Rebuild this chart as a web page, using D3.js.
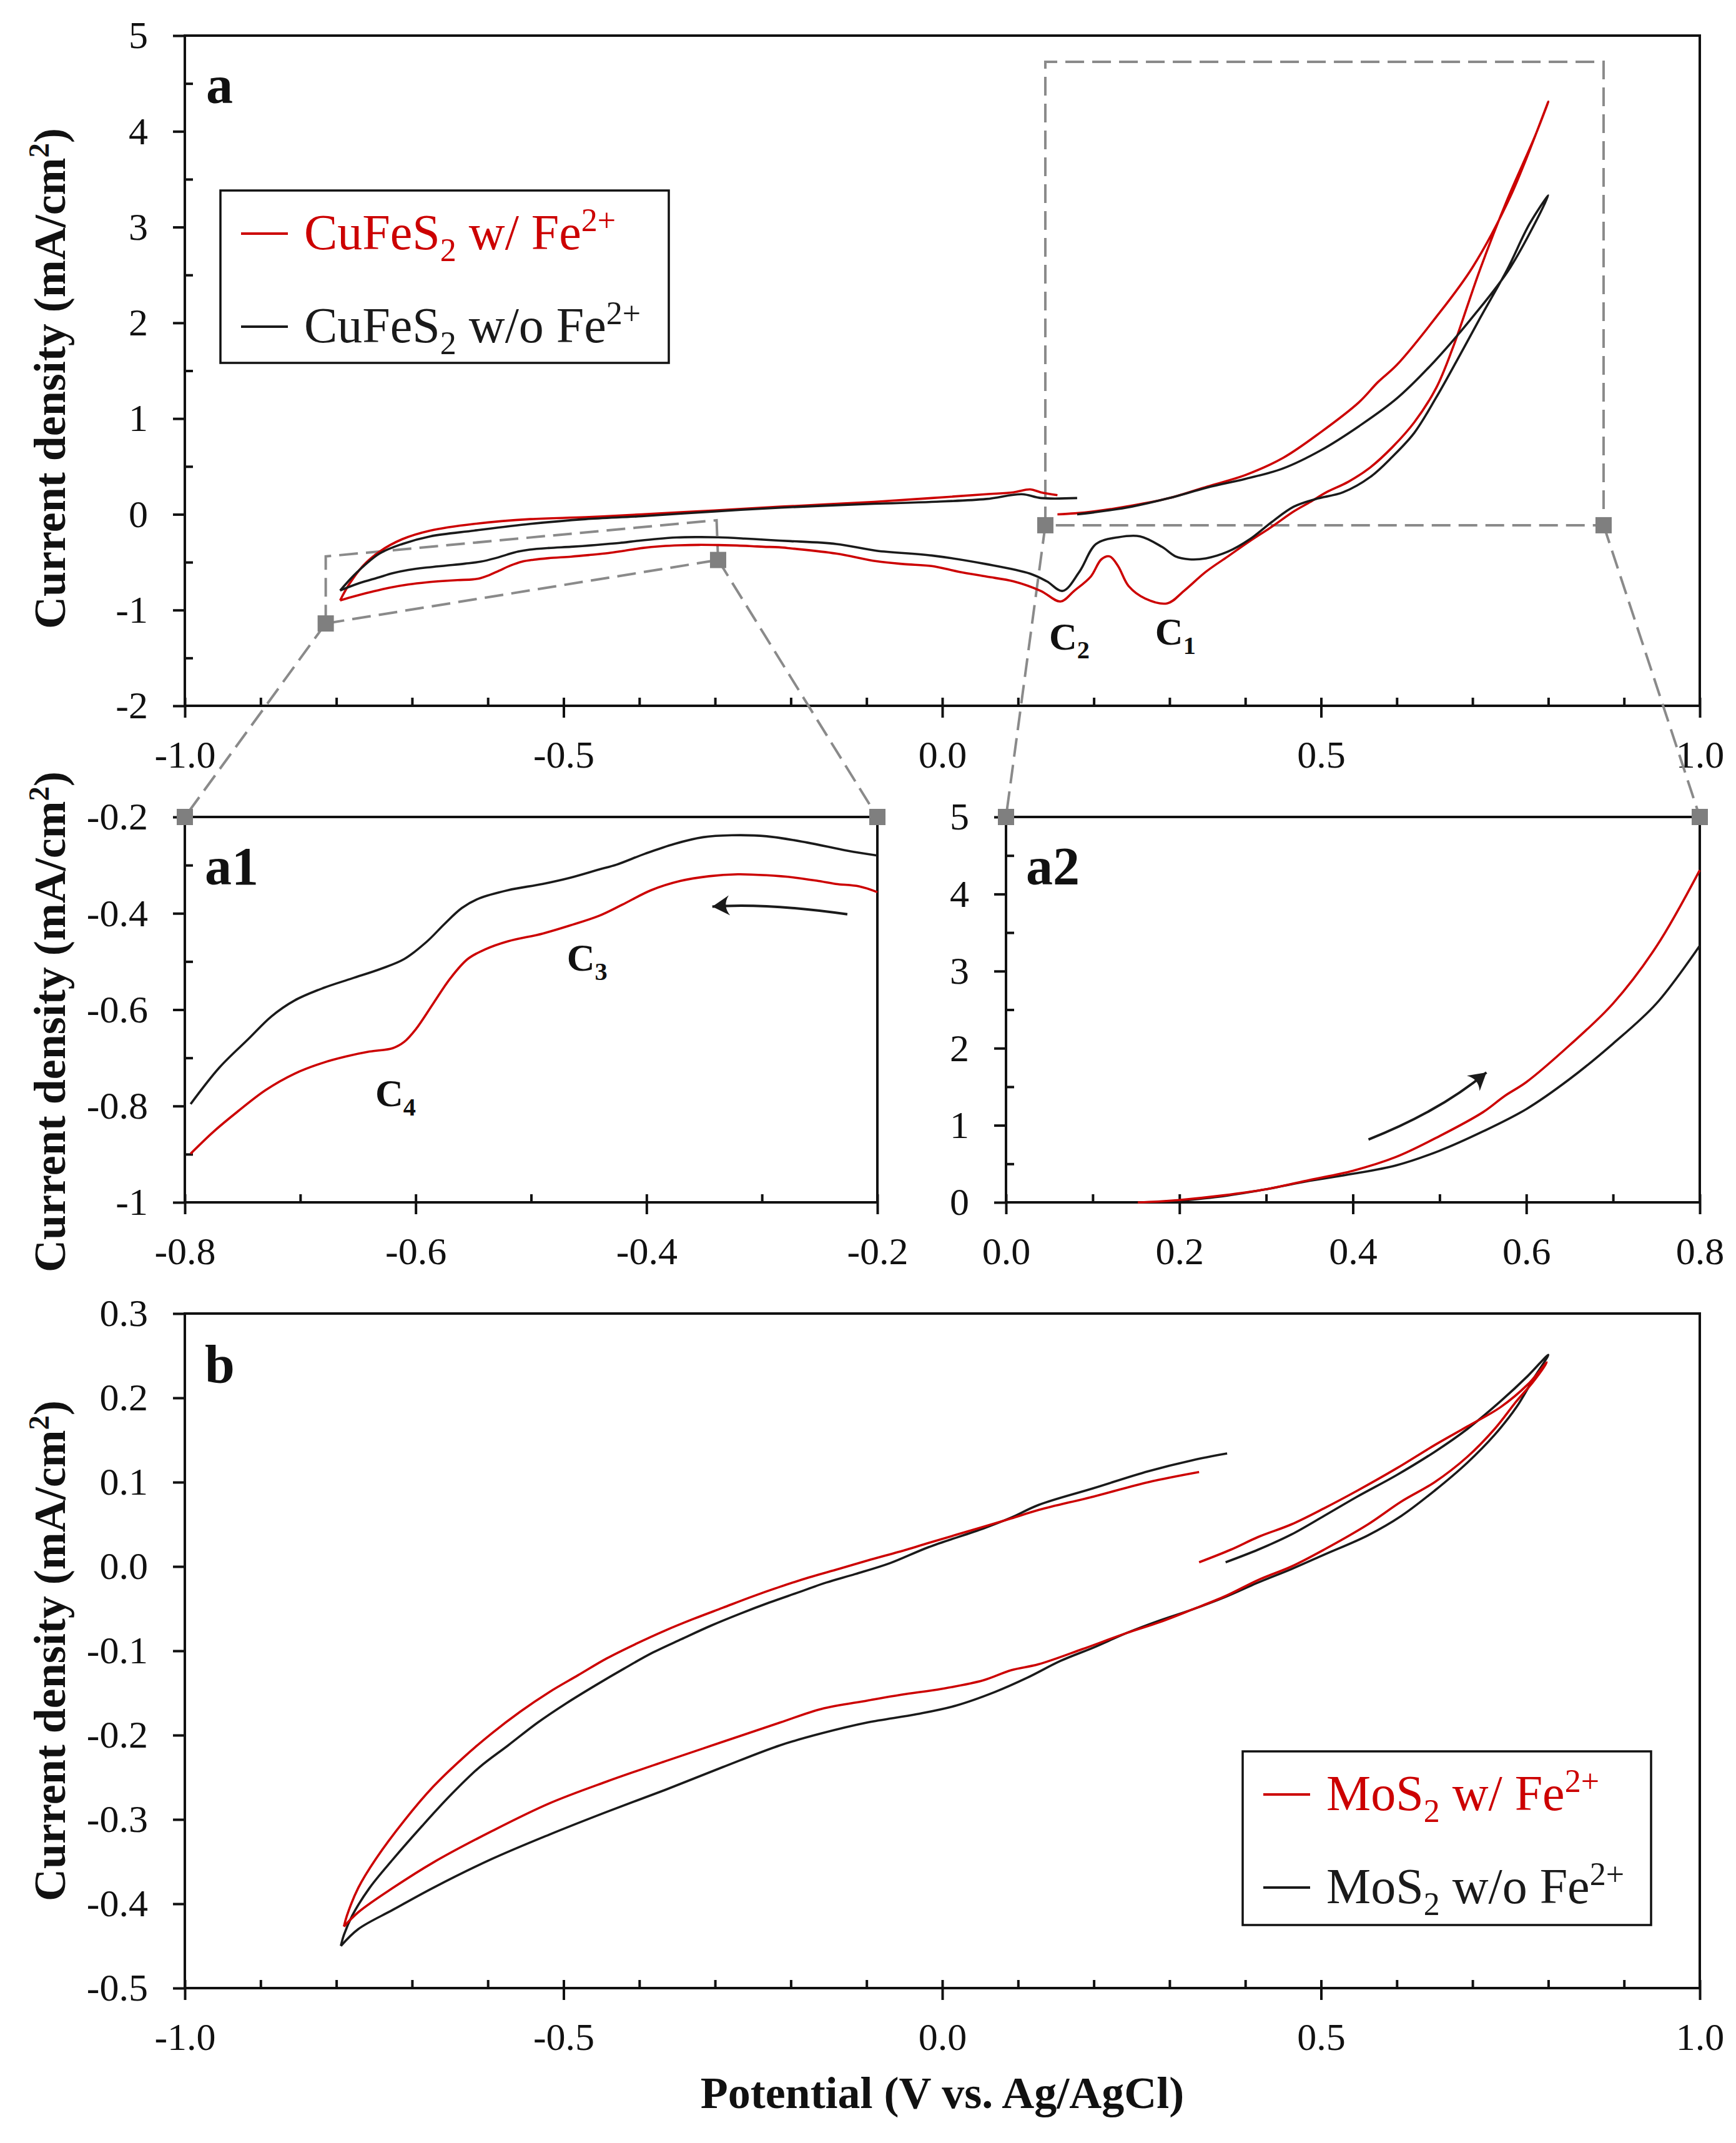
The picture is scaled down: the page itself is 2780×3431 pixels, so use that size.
<!DOCTYPE html>
<html>
<head>
<meta charset="utf-8">
<script src="https://cdn.jsdelivr.net/npm/d3@7/dist/d3.min.js"></script>
<style>
  body { margin: 0; background: #fff; }
  text { font-family: "Liberation Serif", "Times New Roman", serif; }
</style>
</head>
<body>
<div id="chart"></div>
<script>
// CuFeS2 w/ Fe2+ : anodic start, cathodic sweep 0.8 -> -0.8, return sweep
var cuWithFeFwd = [[0.152,0.00],[0.175,0.01],[0.20,0.03],[0.25,0.09],[0.30,0.17],[0.35,0.29],[0.40,0.41],[0.45,0.59],[0.50,0.86],[0.55,1.17],[0.575,1.38],[0.60,1.56],[0.65,2.04],[0.70,2.58],[0.75,3.32],[0.80,4.31]];
var cuWithFeRev = [[0.80,4.31],[0.783,3.96],[0.746,3.29],[0.71,2.56],[0.674,1.74],[0.652,1.32],[0.623,0.96],[0.594,0.70],[0.565,0.49],[0.536,0.34],[0.507,0.23],[0.486,0.13],[0.464,0.03],[0.435,-0.13],[0.406,-0.28],[0.377,-0.44],[0.348,-0.60],[0.319,-0.80],[0.297,-0.93],[0.268,-0.88],[0.246,-0.75],[0.232,-0.54],[0.221,-0.44],[0.21,-0.47],[0.196,-0.65],[0.174,-0.80],[0.156,-0.91],[0.13,-0.80],[0.094,-0.70],[0.058,-0.65],[0.022,-0.60],[-0.014,-0.54],[-0.051,-0.52],[-0.087,-0.49],[-0.14,-0.41],[-0.2,-0.356],[-0.216,-0.344],[-0.236,-0.339],[-0.251,-0.333],[-0.271,-0.326],[-0.296,-0.321],[-0.321,-0.319],[-0.346,-0.323],[-0.371,-0.333],[-0.396,-0.352],[-0.421,-0.382],[-0.441,-0.405],[-0.466,-0.425],[-0.49,-0.442],[-0.52,-0.458],[-0.54,-0.475],[-0.555,-0.495],[-0.57,-0.535],[-0.585,-0.588],[-0.60,-0.641],[-0.61,-0.667],[-0.62,-0.68],[-0.64,-0.687],[-0.66,-0.697],[-0.68,-0.71],[-0.705,-0.733],[-0.73,-0.767],[-0.755,-0.813],[-0.775,-0.853],[-0.795,-0.899]];
var cuWithFeRet = [[-0.795,-0.899],[-0.783,-0.73],[-0.765,-0.54],[-0.743,-0.39],[-0.713,-0.26],[-0.676,-0.17],[-0.618,-0.10],[-0.544,-0.05],[-0.471,-0.03],[-0.397,0.0],[-0.301,0.04],[-0.213,0.08],[-0.09,0.13],[-0.014,0.17],[0.058,0.21],[0.094,0.23],[0.116,0.26],[0.13,0.23],[0.152,0.20]];

// CuFeS2 w/o Fe2+
var cuNoFeFwd = [[0.178,0.00],[0.20,0.02],[0.25,0.08],[0.30,0.17],[0.35,0.28],[0.40,0.37],[0.45,0.48],[0.50,0.67],[0.55,0.92],[0.60,1.21],[0.65,1.60],[0.70,2.06],[0.75,2.58],[0.80,3.33]];
var cuNoFeRev = [[0.80,3.33],[0.775,3.03],[0.746,2.56],[0.71,2.05],[0.681,1.63],[0.652,1.22],[0.623,0.85],[0.594,0.60],[0.565,0.39],[0.529,0.23],[0.493,0.16],[0.464,0.08],[0.435,-0.08],[0.406,-0.26],[0.377,-0.39],[0.348,-0.46],[0.326,-0.47],[0.308,-0.44],[0.29,-0.34],[0.261,-0.23],[0.232,-0.24],[0.203,-0.31],[0.181,-0.60],[0.159,-0.80],[0.138,-0.70],[0.116,-0.62],[0.058,-0.52],[-0.014,-0.43],[-0.087,-0.38],[-0.14,-0.31],[-0.2,-0.28],[-0.226,-0.270],[-0.261,-0.253],[-0.296,-0.240],[-0.326,-0.238],[-0.351,-0.242],[-0.376,-0.256],[-0.401,-0.276],[-0.426,-0.299],[-0.441,-0.309],[-0.466,-0.326],[-0.49,-0.339],[-0.52,-0.352],[-0.545,-0.369],[-0.56,-0.389],[-0.575,-0.422],[-0.59,-0.458],[-0.61,-0.495],[-0.63,-0.515],[-0.655,-0.535],[-0.68,-0.555],[-0.705,-0.581],[-0.725,-0.614],[-0.745,-0.661],[-0.77,-0.72],[-0.795,-0.796]];
var cuNoFeRet = [[-0.795,-0.796],[-0.772,-0.60],[-0.743,-0.41],[-0.713,-0.31],[-0.676,-0.23],[-0.618,-0.17],[-0.544,-0.10],[-0.471,-0.05],[-0.397,-0.02],[-0.301,0.03],[-0.213,0.07],[-0.09,0.11],[-0.014,0.13],[0.058,0.16],[0.105,0.21],[0.13,0.17],[0.178,0.17]];

// MoS2 w/ Fe2+
var moWithFeFwd = [[0.339,0.005],[0.381,0.020],[0.417,0.035],[0.461,0.050],[0.504,0.069],[0.548,0.090],[0.599,0.116],[0.65,0.144],[0.693,0.166],[0.737,0.189],[0.773,0.216],[0.798,0.242]];
var moWithFeRev = [[0.798,0.242],[0.78,0.219],[0.758,0.196],[0.729,0.163],[0.693,0.130],[0.65,0.100],[0.606,0.077],[0.562,0.050],[0.504,0.020],[0.461,0.0],[0.417,-0.016],[0.374,-0.035],[0.33,-0.051],[0.287,-0.066],[0.243,-0.079],[0.185,-0.098],[0.127,-0.116],[0.091,-0.123],[0.054,-0.135],[0.0,-0.145],[-0.054,-0.152],[-0.099,-0.159],[-0.16,-0.169],[-0.214,-0.185],[-0.29,-0.208],[-0.366,-0.231],[-0.443,-0.255],[-0.519,-0.281],[-0.595,-0.314],[-0.672,-0.351],[-0.725,-0.381],[-0.771,-0.410],[-0.79,-0.427]];
var moWithFeRet = [[-0.79,-0.427],[-0.786,-0.414],[-0.771,-0.381],[-0.748,-0.347],[-0.71,-0.301],[-0.672,-0.261],[-0.634,-0.228],[-0.595,-0.198],[-0.557,-0.172],[-0.519,-0.149],[-0.481,-0.129],[-0.443,-0.109],[-0.405,-0.092],[-0.366,-0.076],[-0.328,-0.062],[-0.29,-0.049],[-0.252,-0.036],[-0.214,-0.024],[-0.176,-0.013],[-0.137,-0.003],[-0.099,0.007],[-0.047,0.020],[-0.018,0.028],[0.054,0.047],[0.091,0.057],[0.127,0.067],[0.2,0.083],[0.272,0.100],[0.339,0.112]];

// MoS2 w/o Fe2+
var moNoFeFwd = [[0.374,0.005],[0.417,0.020],[0.461,0.038],[0.504,0.060],[0.548,0.083],[0.599,0.108],[0.65,0.136],[0.693,0.163],[0.737,0.196],[0.773,0.226],[0.80,0.251]];
var moNoFeRev = [[0.80,0.251],[0.78,0.222],[0.758,0.189],[0.729,0.156],[0.693,0.123],[0.65,0.090],[0.606,0.060],[0.562,0.037],[0.504,0.014],[0.461,-0.003],[0.417,-0.019],[0.374,-0.036],[0.33,-0.051],[0.287,-0.064],[0.243,-0.079],[0.2,-0.096],[0.156,-0.112],[0.112,-0.132],[0.069,-0.149],[0.018,-0.165],[-0.033,-0.175],[-0.099,-0.185],[-0.16,-0.198],[-0.214,-0.212],[-0.29,-0.238],[-0.366,-0.265],[-0.443,-0.291],[-0.519,-0.318],[-0.595,-0.347],[-0.672,-0.381],[-0.725,-0.407],[-0.771,-0.430],[-0.794,-0.450]];
var moNoFeRet = [[-0.794,-0.450],[-0.79,-0.437],[-0.779,-0.414],[-0.756,-0.381],[-0.725,-0.347],[-0.687,-0.308],[-0.649,-0.271],[-0.611,-0.238],[-0.573,-0.212],[-0.534,-0.185],[-0.496,-0.162],[-0.458,-0.141],[-0.42,-0.121],[-0.382,-0.102],[-0.344,-0.086],[-0.305,-0.070],[-0.267,-0.056],[-0.229,-0.043],[-0.191,-0.031],[-0.153,-0.019],[-0.115,-0.009],[-0.069,0.004],[-0.018,0.023],[0.054,0.045],[0.091,0.058],[0.127,0.073],[0.2,0.093],[0.272,0.113],[0.33,0.126],[0.376,0.134]];

// tick values / labels
var potTicks = [-1, -0.5, 0, 0.5, 1];
var potLabels = ["-1.0", "-0.5", "0.0", "0.5", "1.0"];
var aCurTicks = [-2, -1, 0, 1, 2, 3, 4, 5];
var aCurLabels = ["-2", "-1", "0", "1", "2", "3", "4", "5"];
var a1PotTicks = [-0.8, -0.6, -0.4, -0.2];
var a1PotLabels = ["-0.8", "-0.6", "-0.4", "-0.2"];
var a1CurTicks = [-1, -0.8, -0.6, -0.4, -0.2];
var a1CurLabels = ["-1", "-0.8", "-0.6", "-0.4", "-0.2"];
var a2PotTicks = [0, 0.2, 0.4, 0.6, 0.8];
var a2PotLabels = ["0.0", "0.2", "0.4", "0.6", "0.8"];
var a2CurTicks = [0, 1, 2, 3, 4, 5];
var a2CurLabels = ["0", "1", "2", "3", "4", "5"];
var bCurTicks = [-0.5, -0.4, -0.3, -0.2, -0.1, 0, 0.1, 0.2, 0.3];
var bCurLabels = ["-0.5", "-0.4", "-0.3", "-0.2", "-0.1", "0.0", "0.1", "0.2", "0.3"];

// legend / annotation text
var legendA = [
  {color: "#cc0000", parts: [["CuFeS"], ["2", "sub"], [" w/ Fe"], ["2+", "sup"]]},
  {color: "#1a1a1a", parts: [["CuFeS"], ["2", "sub"], [" w/o Fe"], ["2+", "sup"]]}
];
var legendB = [
  {color: "#cc0000", parts: [["MoS"], ["2", "sub"], [" w/ Fe"], ["2+", "sup"]]},
  {color: "#1a1a1a", parts: [["MoS"], ["2", "sub"], [" w/o Fe"], ["2+", "sup"]]}
];

var W = 2780, H = 3431;
var RED = "#cc0000", BLK = "#1a1a1a", GREY = "#8a8a8a";
var TICKFONT = 62;

var svg = d3.select("#chart").append("svg")
    .attr("width", W).attr("height", H)
    .style("background", "#fff");

var defs = svg.append("defs");
defs.append("marker")
    .attr("id", "arrowHead")
    .attr("viewBox", "-13 -8 14 16")
    .attr("refX", 0).attr("refY", 0)
    .attr("markerWidth", 32).attr("markerHeight", 38)
    .attr("markerUnits", "userSpaceOnUse")
    .attr("orient", "auto")
  .append("path")
    .attr("d", "M0,0 L-12,-7 Q-7,0 -12,7 Z")
    .attr("fill", BLK);

// rich text with sub / superscripts
function richText(sel, parts, size){
  var shift = 0;
  parts.forEach(function(p){
    var t = sel.append("tspan").text(p[0]);
    var target = 0;
    if(p[1] == "sub"){ target = 0.24*size; t.attr("font-size", size*0.65); }
    else if(p[1] == "sup"){ target = -0.36*size; t.attr("font-size", size*0.65); }
    t.attr("dy", target - shift);
    shift = target;
  });
}

// one framed panel, returns scales
function makePanel(o){
  var x = d3.scaleLinear().domain(o.xDomain).range([o.left, o.right]);
  var y = d3.scaleLinear().domain(o.yDomain).range([o.bottom, o.top]);
  var g = svg.append("g");

  var xMinor = o.xMinor.filter(function(v){ return o.xMajor.every(function(m){ return Math.abs(m - v) > 1e-6; }); });
  var yMinor = o.yMinor.filter(function(v){ return o.yMajor.every(function(m){ return Math.abs(m - v) > 1e-6; }); });

  var xb = g.append("g").attr("transform", "translate(0," + o.bottom + ")")
      .call(d3.axisBottom(x).tickValues(o.xMajor).tickSize(19)
            .tickFormat(function(d, i){ return o.xLabels[i]; }));
  xb.selectAll("text").attr("y", 99).attr("dy", 0);
  g.append("g").attr("transform", "translate(0," + o.bottom + ")")
      .call(d3.axisTop(x).tickValues(o.xMajor.concat(xMinor)).tickSize(13).tickFormat(""));

  g.append("g").attr("transform", "translate(" + o.left + ",0)")
      .call(d3.axisLeft(y).tickValues(o.yMajor).tickSize(19).tickPadding(40)
            .tickFormat(function(d, i){ return o.yLabels[i]; }));
  if(yMinor.length)
    g.append("g").attr("transform", "translate(" + o.left + ",0)")
        .call(d3.axisRight(y).tickValues(yMinor).tickSize(13).tickFormat(""));

  g.selectAll(".domain").remove();
  g.selectAll(".tick line").attr("stroke", "#111").attr("stroke-width", 4);
  g.selectAll(".tick text").attr("font-size", TICKFONT)
      .attr("font-family", "'Liberation Serif','Times New Roman',serif").attr("fill", "#111");

  g.append("rect")
      .attr("x", o.left).attr("y", o.top)
      .attr("width", o.right - o.left).attr("height", o.bottom - o.top)
      .attr("fill", "none").attr("stroke", "#111").attr("stroke-width", 4);

  svg.append("text").attr("x", o.labelX).attr("y", o.labelY)
      .attr("font-size", 86).attr("font-weight", "bold").attr("fill", "#111")
      .text(o.label);

  return {x: x, y: y};
}

function drawCurve(p, data, color){
  var line = d3.line()
      .x(function(d){ return p.x(d[0]); })
      .y(function(d){ return p.y(d[1]); })
      .curve(d3.curveCatmullRom.alpha(0.5));
  svg.append("path").datum(data)
      .attr("d", line)
      .attr("fill", "none").attr("stroke", color)
      .attr("stroke-width", 3.6).attr("stroke-linejoin", "round");
}

function yTitle(cy){
  var t = svg.append("text")
      .attr("transform", "translate(104," + cy + ") rotate(-90)")
      .attr("text-anchor", "middle").attr("font-size", 72)
      .attr("font-weight", "bold").attr("fill", "#111");
  richText(t, [["Current density (mA/cm"], ["2", "sup"], [")"]], 72);
}

function cLabel(p, xv, yv, num){
  var t = svg.append("text").attr("x", p.x(xv)).attr("y", p.y(yv))
      .attr("font-size", 62).attr("font-weight", "bold").attr("fill", "#111");
  richText(t, [["C"], [num, "sub"]], 62);
}

function legend(box, rows){
  svg.append("rect").attr("x", box[0]).attr("y", box[1])
      .attr("width", box[2] - box[0]).attr("height", box[3] - box[1])
      .attr("fill", "#fff").attr("stroke", "#111").attr("stroke-width", 3.5);
  rows.forEach(function(r, i){
    var ly = box[1] + 69 + i * 149;
    svg.append("line").attr("x1", box[0] + 33).attr("x2", box[0] + 108)
        .attr("y1", ly).attr("y2", ly)
        .attr("stroke", r.color).attr("stroke-width", 4);
    var t = svg.append("text").attr("x", box[0] + 134).attr("y", ly + 25)
        .attr("font-size", 80).attr("fill", r.color);
    richText(t, r.parts, 80);
  });
}

// ---------- panel a ----------
var pa = makePanel({
  left: 296, right: 2722, top: 57, bottom: 1130,
  xDomain: [-1, 1], yDomain: [-2, 5],
  xMajor: potTicks, xLabels: potLabels, xMinor: d3.range(-0.9, 1, 0.1),
  yMajor: aCurTicks, yLabels: aCurLabels, yMinor: d3.range(-1.5, 5, 1),
  label: "a", labelX: 330, labelY: 165
});

// ---------- panel a1 ----------
var pa1 = makePanel({
  left: 296, right: 1405, top: 1308, bottom: 1925,
  xDomain: [-0.8, -0.2], yDomain: [-1, -0.2],
  xMajor: a1PotTicks, xLabels: a1PotLabels, xMinor: [-0.7, -0.5, -0.3],
  yMajor: a1CurTicks, yLabels: a1CurLabels, yMinor: [-0.9, -0.7, -0.5, -0.3],
  label: "a1", labelX: 328, labelY: 1416
});

// ---------- panel a2 ----------
var pa2 = makePanel({
  left: 1611, right: 2722, top: 1308, bottom: 1925,
  xDomain: [0, 0.8], yDomain: [0, 5],
  xMajor: a2PotTicks, xLabels: a2PotLabels, xMinor: [0.1, 0.3, 0.5, 0.7],
  yMajor: a2CurTicks, yLabels: a2CurLabels, yMinor: [0.5, 1.5, 2.5, 3.5, 4.5],
  label: "a2", labelX: 1643, labelY: 1416
});

// ---------- panel b ----------
var pb = makePanel({
  left: 296, right: 2722, top: 2103, bottom: 3183,
  xDomain: [-1, 1], yDomain: [-0.5, 0.3],
  xMajor: potTicks, xLabels: potLabels, xMinor: d3.range(-0.9, 1, 0.1),
  yMajor: bCurTicks, yLabels: bCurLabels, yMinor: [],
  label: "b", labelX: 328, labelY: 2213
});

// zoom guides (dashed grey) in panel a
function dashed(pts){
  svg.append("path")
      .attr("d", d3.line()(pts))
      .attr("fill", "none").attr("stroke", GREY)
      .attr("stroke-width", 4).attr("stroke-dasharray", "30,13");
}
function px(p, v){ return [p.x(v[0]), p.y(v[1])]; }

var boxL = [[-0.814, -1.14], [-0.814, -0.44], [-0.298, -0.062], [-0.296, -0.477]];
var boxR = [[0.136, -0.114], [0.136, 4.726], [0.873, 4.726], [0.873, -0.114]];

dashed([px(pa, boxL[0]), px(pa, boxL[1]), px(pa, boxL[2]), px(pa, boxL[3])]);
dashed([px(pa, boxL[0]), px(pa, boxL[3])]);
dashed([px(pa, boxR[0]), px(pa, boxR[1]), px(pa, boxR[2]), px(pa, boxR[3]), px(pa, boxR[0])]);
dashed([px(pa, boxL[0]), px(pa1, [-0.8, -0.2])]);
dashed([px(pa, boxL[3]), px(pa1, [-0.2, -0.2])]);
dashed([px(pa, boxR[0]), px(pa2, [0, 5])]);
dashed([px(pa, boxR[3]), px(pa2, [0.8, 5])]);

// curves
drawCurve(pa, cuWithFeFwd.concat(cuWithFeRev.slice(1)), RED);
drawCurve(pa, cuWithFeRet, RED);
drawCurve(pa, cuNoFeFwd.concat(cuNoFeRev.slice(1)), BLK);
drawCurve(pa, cuNoFeRet, BLK);

drawCurve(pa1, cuNoFeRev.filter(function(d){ return d[0] <= -0.2; }), BLK);
drawCurve(pa1, cuWithFeRev.filter(function(d){ return d[0] <= -0.2; }), RED);

drawCurve(pa2, cuNoFeFwd, BLK);
drawCurve(pa2, cuWithFeFwd, RED);

drawCurve(pb, moNoFeFwd.concat(moNoFeRev.slice(1)), BLK);
drawCurve(pb, moNoFeRet, BLK);
drawCurve(pb, moWithFeFwd.concat(moWithFeRev.slice(1)), RED);
drawCurve(pb, moWithFeRet, RED);

// grey square markers
var markers = [px(pa, boxL[0]), px(pa, boxL[3]), px(pa, boxR[0]), px(pa, boxR[3]),
               px(pa1, [-0.8, -0.2]), px(pa1, [-0.2, -0.2]), px(pa2, [0, 5]), px(pa2, [0.8, 5])];
svg.selectAll("rect.mk").data(markers).enter().append("rect")
    .attr("class", "mk")
    .attr("x", function(d){ return d[0] - 13; }).attr("y", function(d){ return d[1] - 13; })
    .attr("width", 26).attr("height", 26).attr("fill", "#7f7f7f");

// peak labels
cLabel(pa, 0.141, -1.41, "2");
cLabel(pa, 0.281, -1.36, "1");
cLabel(pa1, -0.469, -0.519, "3");
cLabel(pa1, -0.635, -0.800, "4");

// sweep direction arrows
function arrow(p, s, c, e){
  svg.append("path")
      .attr("d", "M" + p.x(s[0]) + "," + p.y(s[1]) + " Q" + p.x(c[0]) + "," + p.y(c[1]) + " " + p.x(e[0]) + "," + p.y(e[1]))
      .attr("fill", "none").attr("stroke", BLK).attr("stroke-width", 4)
      .attr("marker-end", "url(#arrowHead)");
}
arrow(pa1, [-0.226, -0.402], [-0.296, -0.378], [-0.343, -0.386]);
arrow(pa2, [0.418, 0.816], [0.50, 1.18], [0.554, 1.686]);

// legends
legend([353, 305, 1071, 581], legendA);
legend([1990, 2804, 2644, 3082], legendB);

// axis titles
yTitle(606);
yTitle(1636);
yTitle(2643);
svg.append("text").attr("x", 1509).attr("y", 3375)
    .attr("text-anchor", "middle").attr("font-size", 72)
    .attr("font-weight", "bold").attr("fill", "#111")
    .text("Potential (V vs. Ag/AgCl)");
</script>
</body>
</html>
